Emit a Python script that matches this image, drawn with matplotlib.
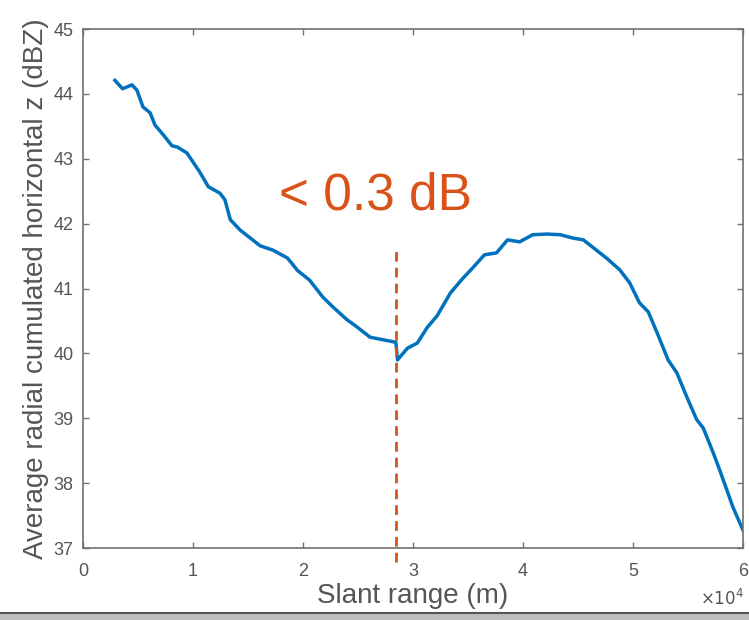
import matplotlib
matplotlib.use('Agg')
import matplotlib.pyplot as plt
import numpy as np

plt.rcParams['font.family'] = ['Liberation Sans', 'DejaVu Sans']

# slant range (m) and average radial cumulated horizontal reflectivity (dBZ)
slant_range = [2900, 3600, 4450, 4900, 5450, 6100, 6550, 7300, 8100, 8600,
               9450, 10600, 11400, 12450, 12900, 13400, 14300, 15200, 16100, 17300,
               18600, 19500, 20600, 21800, 22700, 24000, 24900, 26100, 27300, 28200,
               28450, 28600, 29500, 30400, 31300, 32200, 33400, 34500, 35500, 36500,
               37600, 38600, 39700, 40900, 42200, 43400, 44500, 45500, 46400, 47600,
               48800, 49700, 50600, 51400, 52200, 53200, 54000, 54900, 55800, 56400,
               57300, 57900, 59100, 60000]
reflectivity = [44.21, 44.08, 44.14, 44.06, 43.80, 43.71, 43.52, 43.37, 43.20, 43.18,
                43.09, 42.80, 42.57, 42.47, 42.37, 42.06, 41.90, 41.78, 41.66, 41.59,
                41.47, 41.28, 41.13, 40.87, 40.72, 40.52, 40.41, 40.25, 40.21, 40.18,
                40.17, 39.90, 40.08, 40.16, 40.40, 40.58, 40.93, 41.15, 41.33, 41.52,
                41.55, 41.75, 41.72, 41.83, 41.84, 41.83, 41.78, 41.75, 41.63, 41.47,
                41.29, 41.09, 40.78, 40.64, 40.32, 39.90, 39.70, 39.33, 38.98, 38.85,
                38.47, 38.20, 37.63, 37.28]

marker_range = 28450
marker_top = 41.65
annotation = '< 0.3 dB'

x_ticks = [0, 1, 2, 3, 4, 5, 6]
y_ticks = [37, 38, 39, 40, 41, 42, 43, 44, 45]

blue = '#0072BD'
orange = '#D95319'
gray = '#555555'

fig = plt.figure(figsize=(7.49, 6.2), dpi=100)
ax = fig.add_axes([0.1108, 0.1161, 0.881, 0.837])

x = np.array(slant_range) / 1e4
ax.plot(x, reflectivity, color=blue, linewidth=2.5, solid_joinstyle='round')

ax.plot([marker_range / 1e4, marker_range / 1e4], [36.78, marker_top],
        color=orange, linewidth=2.0, linestyle=(0, (3.5, 2.2)), clip_on=False)

ax.text(2.66, 42.43, annotation, color=orange, fontsize=37, ha='center', va='center')

ax.set_xlim(0, 6)
ax.set_ylim(37, 45)
ax.set_xticks(x_ticks)
ax.set_yticks(y_ticks)
ax.tick_params(direction='in', length=4.5, width=1.0, colors='#707070',
               labelcolor=gray, labelsize=13, top=True, right=True)
ax.tick_params(axis='x', pad=11)
ax.tick_params(axis='y', pad=7)
for s in ax.spines.values():
    s.set_color('#707070')
    s.set_linewidth(1.2)

ax.set_xlabel('Slant range (m)', fontsize=20, color=gray, labelpad=2)
ax.set_ylabel('Average radial cumulated horizontal z (dBZ)', fontsize=20, color=gray, labelpad=3)

fig.text(0.993, 0.035, r'$\times10^4$', color=gray, fontsize=12, ha='right', va='center',
         fontfamily='Liberation Sans')

# grey strip at the bottom edge of the screenshot
fig.patches.append(plt.Rectangle((0, 0), 1, 0.011, transform=fig.transFigure,
                                 color='#bdbdbd', zorder=0))
fig.lines.append(plt.Line2D([0, 1], [0.0115, 0.0115], transform=fig.transFigure,
                            color='#555555', linewidth=1.5))

fig.savefig('out.png', dpi=100)
